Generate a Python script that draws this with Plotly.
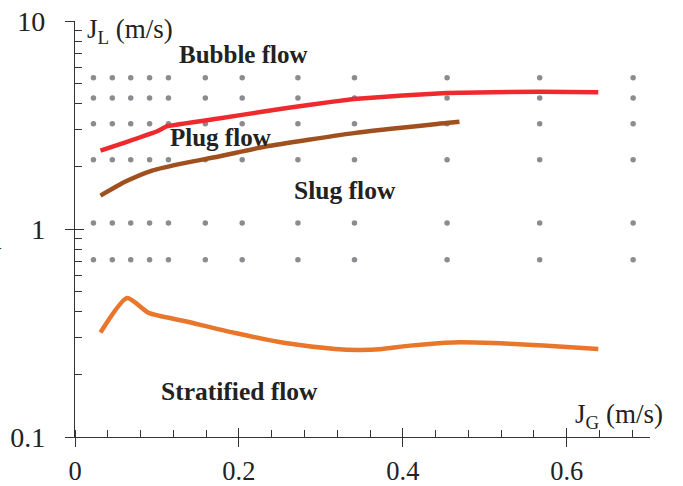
import plotly.graph_objects as go

# Data points (grid of experimental conditions)
dot_x = [0.0225, 0.0455, 0.068, 0.091, 0.114, 0.159, 0.204, 0.272, 0.341, 0.454, 0.567, 0.681]
dot_y = [5.34, 4.26, 3.21, 2.15, 1.07, 0.712]

# Boundary curves
red_x = [0.0311, 0.0616, 0.1002, 0.1124, 0.1753, 0.2322, 0.285, 0.3404, 0.40, 0.4533, 0.5663, 0.6385]
red_y = [2.38, 2.61, 2.95, 3.12, 3.40, 3.68, 3.95, 4.22, 4.38, 4.51, 4.57, 4.55]

brown_x = [0.0311, 0.0616, 0.0941, 0.1347, 0.1753, 0.2322, 0.3404, 0.4529, 0.4691]
brown_y = [1.446, 1.69, 1.91, 2.08, 2.23, 2.49, 2.89, 3.23, 3.28]

orange_x = [0.0311, 0.0636, 0.090, 0.1347, 0.1957, 0.2566, 0.3175, 0.345, 0.372, 0.409, 0.4618, 0.5105, 0.5715, 0.6385]
orange_y = [0.318, 0.466, 0.395, 0.360, 0.316, 0.283, 0.265, 0.262, 0.264, 0.275, 0.285, 0.283, 0.275, 0.265]

x_tickvals = [0, 0.2, 0.4, 0.6]
x_ticktext = ["0", "0.2", "0.4", "0.6"]
y_tickvals = [0.1, 1, 10]
y_ticktext = ["0.1", "1", "10"]
y_minor = [0.2, 0.3, 0.4, 0.5, 0.6, 0.7, 0.8, 0.9, 2, 3, 4, 5, 6, 7, 8, 9]

FONT = "Liberation Serif"
AX = "#333333"

gx, gy = [], []
for yv in dot_y:
    for xv in dot_x:
        gx.append(xv)
        gy.append(yv)

fig = go.Figure()
fig.add_trace(go.Scatter(x=gx, y=gy, mode="markers",
                         marker=dict(size=5.5, color="#8b8b90"), showlegend=False, hoverinfo="skip"))
fig.add_trace(go.Scatter(x=orange_x, y=orange_y, mode="lines",
                         line=dict(color="#e8772c", width=4.5, shape="spline", smoothing=0.6), showlegend=False))
fig.add_trace(go.Scatter(x=brown_x, y=brown_y, mode="lines",
                         line=dict(color="#a0501e", width=4.5, shape="spline", smoothing=0.6), showlegend=False))
fig.add_trace(go.Scatter(x=red_x, y=red_y, mode="lines",
                         line=dict(color="#ee2a2e", width=4.5, shape="spline", smoothing=0.2), showlegend=False))
# dummy trace for overlay axes (inside halves of major ticks)
fig.add_trace(go.Scatter(x=[None], y=[None], xaxis="x2", yaxis="y2", showlegend=False, hoverinfo="skip"))

XR = [0, 0.7016]
fig.update_layout(
    width=683, height=486,
    margin=dict(l=75, r=33, t=21, b=49),
    paper_bgcolor="white", plot_bgcolor="white",
    font=dict(family=FONT, size=28, color="#222222"),
    xaxis=dict(range=XR, automargin=False, showgrid=False, zeroline=False, showline=True, linecolor=AX,
               linewidth=1.3, tickvals=x_tickvals, ticktext=x_ticktext, ticks="outside", ticklen=9,
               tickwidth=1.3, tickcolor=AX, ticklabelstandoff=1, tickfont=dict(size=26.5),
               minor=dict(dtick=0.04, tick0=0, ticks="inside", ticklen=7, tickwidth=1.1, tickcolor=AX,
                          showgrid=False)),
    yaxis=dict(type="log", range=[-1, 1], automargin=False, showgrid=False, zeroline=False, showline=True,
               linecolor=AX, linewidth=1.3, tickvals=y_tickvals, ticktext=y_ticktext, ticks="outside",
               ticklen=9, tickwidth=1.3, tickcolor=AX, ticklabelstandoff=14,
               minor=dict(tickvals=y_minor, ticks="inside", ticklen=7, tickwidth=1.1, tickcolor=AX,
                          showgrid=False)),
    xaxis2=dict(range=XR, overlaying="x", anchor="y2", side="bottom", automargin=False, showgrid=False,
                zeroline=False, showline=False, tickvals=x_tickvals, ticks="inside", ticklen=9,
                tickwidth=1.3, tickcolor=AX, showticklabels=False),
    yaxis2=dict(type="log", range=[-1, 1], overlaying="y", anchor="x2", side="left", automargin=False,
                showgrid=False, zeroline=False, showline=False, tickvals=y_tickvals, ticks="inside",
                ticklen=9, tickwidth=1.3, tickcolor=AX, showticklabels=False),
)

def ann(text, x, y, size, bold=False, xanchor="left"):
    fig.add_annotation(text=("<b>%s</b>" % text) if bold else text, x=x, y=y, xref="x", yref="y",
                       showarrow=False, xanchor=xanchor, yanchor="middle",
                       font=dict(family=FONT, size=size, color="#222222"))

ann("Bubble flow", 0.124, 0.838, 25, bold=True)
ann("Plug flow", 0.114, 0.439, 25, bold=True)
ann("Slug flow", 0.265, 0.1865, 25.5, bold=True)
ann("Stratified flow", 0.103, -0.782, 25.5, bold=True)
ann("J<sub>L</sub> (m/s)", 0.012, 0.95, 27)
ann("J<sub>G</sub> (m/s)", 0.608, -0.90, 27)
fig.add_annotation(text="a", x=-0.1243, y=0.475, xref="paper", yref="paper", showarrow=False,
                   xanchor="right", yanchor="middle", font=dict(family=FONT, size=28, color="#222222"))

fig.write_html("out.html")
